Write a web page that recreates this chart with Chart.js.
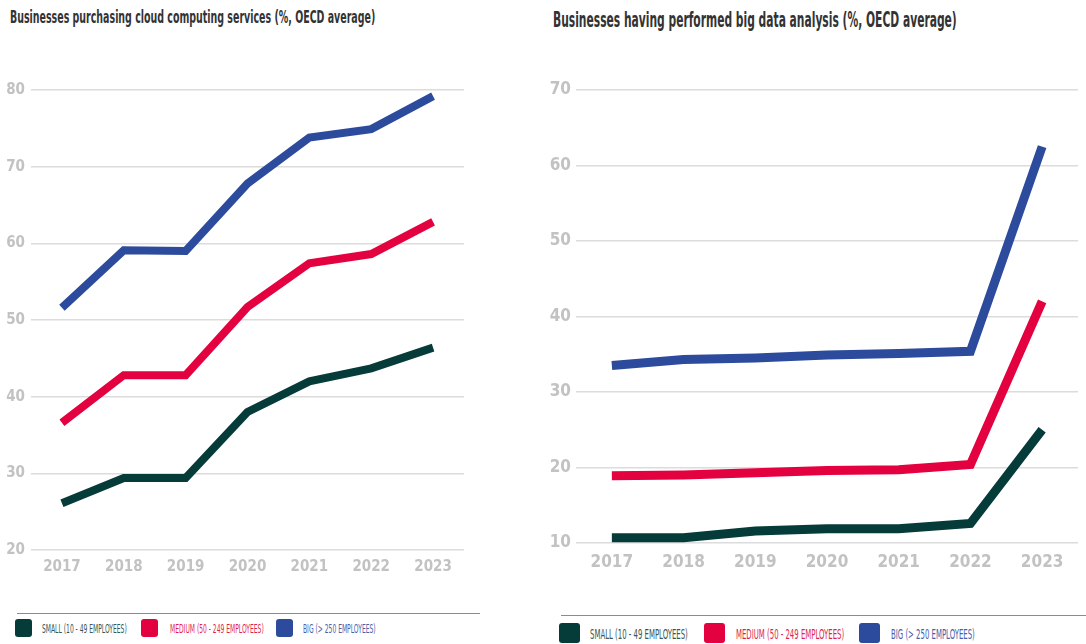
<!DOCTYPE html>
<html lang="en">

<head>
    <meta charset="UTF-8">
    <title>OECD business digital adoption</title>
    <script src="https://cdn.jsdelivr.net/npm/chart.js"></script>
    <style>
        body {
            margin: 0;
            background: #fff;
            font-family: "Liberation Sans Narrow", "DejaVu Sans Condensed", sans-serif;
        }

        .stage {
            position: relative;
            width: 1086px;
            height: 644px;
            overflow: hidden;
        }

        .titulo {
            position: absolute;
            white-space: nowrap;
            font-weight: bold;
            color: #333;
            transform-origin: left top;
            line-height: 1;
        }

        canvas {
            position: absolute;
        }

        .linha {
            position: absolute;
            height: 1px;
            background: #8c8c8c;
        }

        .caixa {
            position: absolute;
            border-radius: 3px;
        }

        .rotulo {
            position: absolute;
            white-space: nowrap;
            transform-origin: left center;
            line-height: 1;
        }
    </style>
</head>

<body>
    <div class="stage" id="stage">
        <div class="titulo" id="t1" style="left:10px; top:9px; font-size:17px;">Businesses purchasing cloud computing services (%, OECD average)</div>
        <div class="titulo" id="t2" style="left:553px; top:10px; font-size:21px;">Businesses having performed big data analysis (%, OECD average)</div>

        <canvas id="cloud" width="470" height="520" style="left:0px; top:60px;"></canvas>
        <canvas id="bigdata" width="546" height="520" style="left:540px; top:60px;"></canvas>

        <div class="linha" style="left:17px; top:613px; width:463px;"></div>
        <div class="linha" style="left:561px; top:615px; width:525px;"></div>
        <div id="legenda"></div>
    </div>

<script>
    // anos e valores (% das empresas, média OCDE)
    const anos = ['2017', '2018', '2019', '2020', '2021', '2022', '2023'];

    const cloudSmall = [26.1, 29.4, 29.4, 38.0, 42.0, 43.7, 46.4];
    const cloudMedium = [36.6, 42.8, 42.8, 51.7, 57.4, 58.6, 62.8];
    const cloudBig = [51.6, 59.1, 59.0, 67.8, 73.8, 74.9, 79.2];

    const bigDataSmall = [10.7, 10.7, 11.6, 11.9, 11.9, 12.6, 25.0];
    const bigDataMedium = [18.9, 19.0, 19.3, 19.6, 19.7, 20.4, 42.0];
    const bigDataBig = [33.5, 34.3, 34.5, 34.9, 35.1, 35.4, 62.5];

    const series = ['SMALL (10 - 49 EMPLOYEES)', 'MEDIUM (50 - 249 EMPLOYEES)', 'BIG (> 250 EMPLOYEES)'];
    const cores = ['#053b38', '#e3023f', '#2d4b9c'];
    const coresTexto = ['#3a5653', '#e01f4e', '#4a5ea7'];

    const fonteEixo = '"Liberation Sans Narrow", "DejaVu Sans Condensed", sans-serif';

    function montarGrafico(id, valores, cfg) {
        const ctx = document.getElementById(id);
        return new Chart(ctx, {
            type: 'line',
            data: {
                labels: anos,
                datasets: valores.map((v, i) => ({
                    label: series[i],
                    data: v,
                    borderColor: cores[i],
                    backgroundColor: cores[i],
                    borderWidth: cfg.espessura,
                    borderCapStyle: 'butt',
                    borderJoinStyle: 'miter',
                    pointRadius: 0,
                    tension: 0,
                    fill: false
                }))
            },
            options: {
                responsive: false,
                animation: false,
                devicePixelRatio: 1,
                layout: { padding: cfg.padding },
                plugins: {
                    legend: { display: false },
                    tooltip: { enabled: false }
                },
                scales: {
                    x: {
                        offset: true,
                        afterFit: (scale) => { scale.height = cfg.alturaX; },
                        grid: { display: false, drawTicks: false },
                        border: { display: false },
                        ticks: {
                            color: '#c2c2c2',
                            padding: cfg.padX,
                            maxRotation: 0,
                            font: { family: fonteEixo, size: cfg.fonte, weight: 'bold' }
                        }
                    },
                    y: {
                        min: cfg.min,
                        max: cfg.max,
                        afterFit: (scale) => { scale.width = cfg.larguraY; },
                        grid: { color: '#dcdcdc', lineWidth: 1.5, drawTicks: false },
                        border: { display: false },
                        ticks: {
                            stepSize: 10,
                            color: '#c2c2c2',
                            padding: cfg.padY,
                            font: { family: fonteEixo, size: cfg.fonte, weight: 'bold' }
                        }
                    }
                }
            }
        });
    }

    montarGrafico('cloud', [cloudSmall, cloudMedium, cloudBig], {
        min: 20, max: 80, espessura: 8, fonte: 15,
        padding: { top: 30, bottom: 4, right: 6, left: 0 },
        larguraY: 31, padY: 6, padX: 8, alturaX: 26
    });

    montarGrafico('bigdata', [bigDataSmall, bigDataMedium, bigDataBig], {
        min: 10, max: 70, espessura: 9, fonte: 17,
        padding: { top: 30, bottom: 7, right: 8, left: 0 },
        larguraY: 36, padY: 5, padX: 9, alturaX: 30
    });

    // títulos com fonte condensada: comprime na horizontal até a largura certa
    function ajustarLargura(el, largura) {
        const w = el.scrollWidth;
        el.style.transform = `scaleX(${largura / w})`;
    }
    ajustarLargura(document.getElementById('t1'), 365);
    ajustarLargura(document.getElementById('t2'), 404);

    // legendas em baixo de cada gráfico
    const legendas = [
        { caixas: [15, 141, 276], texto: [42, 170, 303], topo: 619, larg: 17, alt: 18, fonte: 12.5, alvo: 85 },
        { caixas: [559, 704, 859], texto: [590, 736, 891], topo: 623, larg: 21, alt: 20, fonte: 14, alvo: 98 }
    ];
    const legenda = document.getElementById('legenda');
    legendas.forEach((lg) => {
        let escala = 1;
        series.forEach((nome, i) => {
            const caixa = document.createElement('div');
            caixa.className = 'caixa';
            caixa.style.cssText = `left:${lg.caixas[i]}px; top:${lg.topo}px; width:${lg.larg}px; height:${lg.alt}px; background:${cores[i]};`;
            legenda.appendChild(caixa);

            const txt = document.createElement('div');
            txt.className = 'rotulo';
            txt.textContent = nome;
            txt.style.cssText = `left:${lg.texto[i]}px; top:${lg.topo + lg.alt / 2 - lg.fonte / 2 + 1}px; font-size:${lg.fonte}px; color:${coresTexto[i]};`;
            legenda.appendChild(txt);
            if (i === 0) escala = lg.alvo / txt.scrollWidth;
            txt.style.transform = `scaleX(${escala})`;
        });
    });
</script>
</body>

</html>
